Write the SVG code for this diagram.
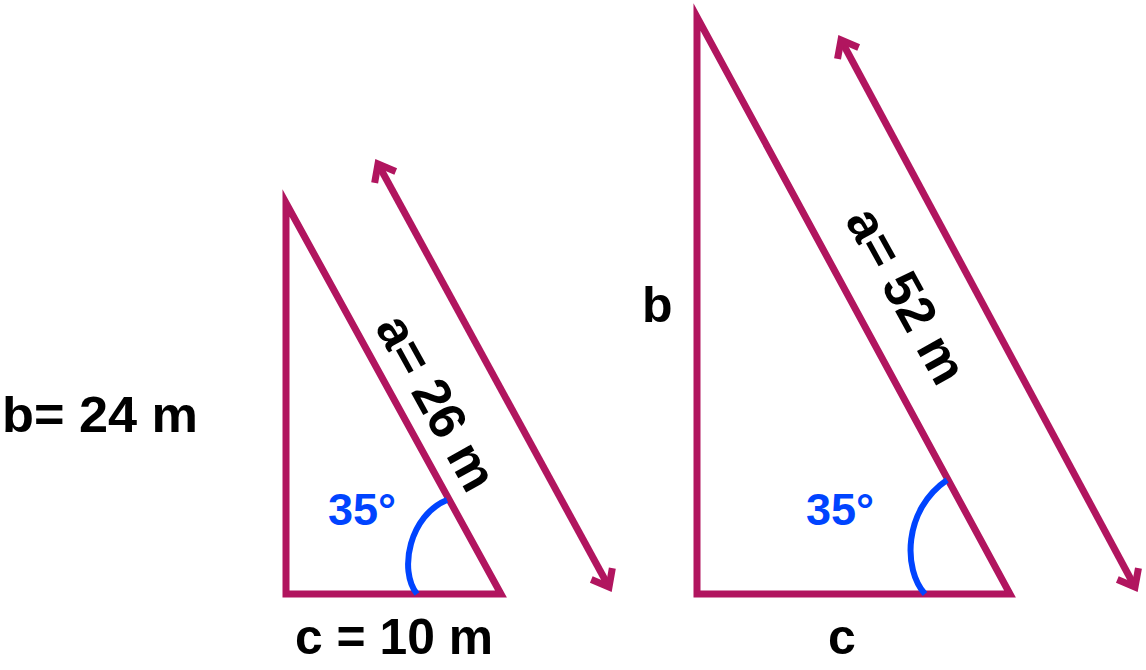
<svg xmlns="http://www.w3.org/2000/svg" width="1146" height="670" viewBox="0 0 1146 670">
<style>
.tri{fill:none;stroke:#B1155F;stroke-width:7;stroke-linejoin:miter;stroke-miterlimit:10}
.arr{fill:none;stroke:#B1155F;stroke-width:7;marker-start:url(#ah);marker-end:url(#ah)}
.ang{fill:none;stroke:#0044FF;stroke-width:6}
.lbl{font-family:"Liberation Sans",Arial,sans-serif;font-weight:bold;font-size:50px;fill:#000}
.rot{font-size:52px}
.deg{font-family:"Liberation Sans",Arial,sans-serif;font-weight:bold;font-size:45px;fill:#0044FF}
</style>
<defs>
<marker id="ah" markerUnits="userSpaceOnUse" viewBox="-30 -20 40 40" markerWidth="40" markerHeight="40" refX="-4" refY="0" orient="auto-start-reverse">
<path d="M-19,-12 L-4,0 L-19,12" fill="none" stroke="#B1155F" stroke-width="7" stroke-linejoin="miter" stroke-miterlimit="10"/>
</marker>
</defs>
<rect width="1146" height="670" fill="#fff"/>
<g id="triangle1">
<polygon class="tri" points="286,203 286,594 501,594"/>
<path class="ang" d="M447,500 C410,515 398,570 417,594"/>
<text class="deg" x="328" y="525">35°</text>
</g>
<g id="triangle2">
<polygon class="tri" points="697,17 697,594 1010,594"/>
<path class="ang" d="M947,480 C903,510 903,570 925,594"/>
<text class="deg" x="806" y="525">35°</text>
</g>
<g id="connectors">
<line class="arr" x1="378" y1="164" x2="609" y2="587"/>
<line class="arr" x1="841" y1="40" x2="1135" y2="587"/>
</g>
<g id="labels">
<text class="lbl" x="2" y="432" textLength="196" lengthAdjust="spacingAndGlyphs">b= 24 m</text>
<text class="lbl" x="295" y="654" textLength="198" lengthAdjust="spacingAndGlyphs">c = 10 m</text>
<text class="lbl" x="642" y="322">b</text>
<text class="lbl" x="828" y="654">c</text>
<text class="lbl rot" text-anchor="middle" transform="translate(421,411) rotate(61)">a= 26 m</text>
<text class="lbl rot" text-anchor="middle" transform="translate(891,304) rotate(61)">a= 52 m</text>
</g>
</svg>
